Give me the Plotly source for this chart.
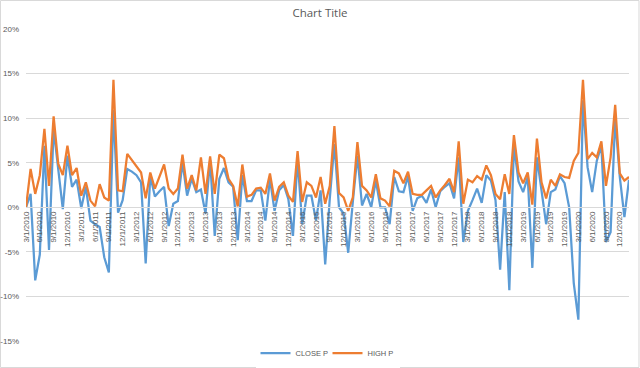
import plotly.graph_objects as go
import pandas as pd

# ---- data (percent) ----
dates = pd.date_range("2010-03-01", periods=132, freq="MS")
categories = [f"{d.month}/{d.day}/{d.year}" for d in dates]

close_p = [0.0, 1.5, -8.2, -5.3, 6.9, -4.8, 8.8, 4.2, -0.2, 5.8,
           2.3, 3.1, -0.1, 2.3, -1.5, -1.9, -2.2, -5.6, -7.3, 10.9,
           -0.6, 0.8, 4.3, 4.0, 3.6, 2.8, -6.3, 3.5, 1.2, 1.8,
           2.3, -2.1, 0.4, 0.7, 5.0, 1.3, 3.2, 1.7, 2.0, -0.7,
           5.3, -3.2, 3.2, 4.4, 2.8, 2.3, -3.7, 3.6, 0.7, 0.7,
           1.9, 1.9, -1.5, 3.2, -0.4, 1.9, 2.5, 0.9, -3.2, 5.4,
           -1.9, 1.3, 1.3, -1.5, 1.9, -6.4, 1.0, 7.1, 0.0, -0.7,
           -5.1, 0.6, 5.8, 0.2, 1.5, 0.0, 3.0, 0.0, 0.0, -1.9,
           3.4, 1.8, 1.7, 3.5, -0.4, 1.0, 1.3, 0.5, 2.0, 0.0,
           1.8, 2.3, 2.7, 1.0, 5.6, -3.9, -0.4, 0.8, 2.1, 0.5,
           3.6, 3.0, 0.8, -7.0, 1.7, -9.3, 6.9, 2.9, 1.7, 3.4,
           -6.8, 5.6, 1.9, -1.9, 1.7, 2.0, 3.5, 2.7, 0.0, -8.5,
           -12.6, 12.0, 4.5, 1.7, 5.2, 6.9, -3.9, -2.8, 9.9, 3.4,
           -1.1, 3.1]

high_p = [0.0, 4.3, 1.5, 3.6, 8.8, 2.4, 10.2, 4.9, 3.6, 6.9,
          3.6, 4.4, 1.3, 2.8, 0.75, 0.1, 2.6, 1.1, 0.75, 14.3,
          1.9, 1.8, 6.0, 5.3, 4.5, 3.9, 1.0, 3.9, 2.1, 3.4,
          4.8, 2.1, 1.5, 2.1, 5.9, 2.1, 3.6, 1.9, 5.6, 1.5,
          5.7, 1.5, 5.9, 5.5, 3.2, 2.4, 0.1, 4.8, 1.2, 1.4,
          2.1, 2.2, 1.5, 3.8, 0.75, 2.3, 2.8, 1.3, 0.6, 6.3,
          0.6, 2.8, 2.4, 1.1, 3.4, 0.4, 2.4, 9.1, 1.6, 1.1,
          -0.4, 1.1, 7.3, 2.4, 1.9, 1.1, 3.7, 1.0, 0.75, 0.1,
          4.1, 3.8, 2.7, 4.0, 1.5, 1.4, 1.4, 1.9, 2.4, 1.1,
          1.9, 2.5, 3.2, 1.7, 7.4, 0.4, 3.1, 2.8, 3.5, 3.1,
          4.7, 3.6, 1.5, 0.9, 3.7, 1.5, 8.1, 3.9, 2.7, 3.9,
          0.3, 7.7, 2.8, 1.0, 3.1, 2.4, 3.7, 3.4, 3.3, 5.2,
          6.1, 14.3, 5.4, 6.1, 5.6, 7.4, 2.4, 5.6, 11.5, 3.8,
          3.0, 3.4]

tick_labels = categories[::3]
y_ticks = [-15, -10, -5, 0, 5, 10, 15, 20]
y_tick_text = [f"{v}%" for v in y_ticks]

GRAY_TXT = "#595959"
GRID = "#d9d9d9"

fig = go.Figure()
fig.add_trace(go.Scatter(x=categories, y=close_p, mode="lines", name="CLOSE P",
                         line=dict(color="#5B9BD5", width=2.25)))
fig.add_trace(go.Scatter(x=categories, y=high_p, mode="lines", name="HIGH P",
                         line=dict(color="#ED7D31", width=2.25)))

ml, mr, mt, mb = 26, 10.5, 29, 27
W, H = 640, 368
pw, ph = W - ml - mr, H - mt - mb

fig.update_layout(
    width=W, height=H,
    margin=dict(l=ml, r=mr, t=mt, b=mb, autoexpand=False),
    paper_bgcolor="white", plot_bgcolor="white",
    font=dict(family="Liberation Sans, Arial", color=GRAY_TXT, size=8),
    title=dict(text="Chart Title", x=0.5, xanchor="center", y=1 - 13 / H, yanchor="middle",
               font=dict(size=11.5, color=GRAY_TXT, family="Open Sans, Liberation Sans")),
    showlegend=True,
    legend=dict(orientation="h", x=0.5, xanchor="center", y=-(353 - (H - mb)) / ph, yanchor="middle",
                font=dict(size=7.5, color=GRAY_TXT), itemwidth=30, entrywidth=27,
                entrywidthmode="pixels", tracegroupgap=0),
    xaxis=dict(type="category", range=[0, len(categories) - 1], automargin=False,
               tickmode="array", tickvals=tick_labels, ticktext=tick_labels,
               tickangle=-90, showgrid=False, showline=True, linecolor=GRID, linewidth=1,
               ticks="", anchor="free", position=15 / 35,
               tickfont=dict(size=8, color=GRAY_TXT), zeroline=False),
    yaxis=dict(range=[-15, 20], tickmode="array", tickvals=y_ticks, ticktext=y_tick_text,
               automargin=False, showgrid=True, gridcolor=GRID, gridwidth=1, zeroline=False,
               showline=False, ticks="", ticklabelstandoff=6,
               tickfont=dict(size=8, color=GRAY_TXT)),
)

# outer chart border
fig.add_shape(type="rect", xref="paper", yref="paper",
              x0=(-ml + 0.5) / pw, x1=1 + (mr - 0.5) / pw,
              y0=(-mb + 0.5) / ph, y1=1 + (mt - 0.5) / ph,
              line=dict(color=GRID, width=1), layer="below")

fig.write_html("out.html", config={"displayModeBar": False},
               post_script="document.body.style.margin='0';document.body.style.overflow='hidden';")
